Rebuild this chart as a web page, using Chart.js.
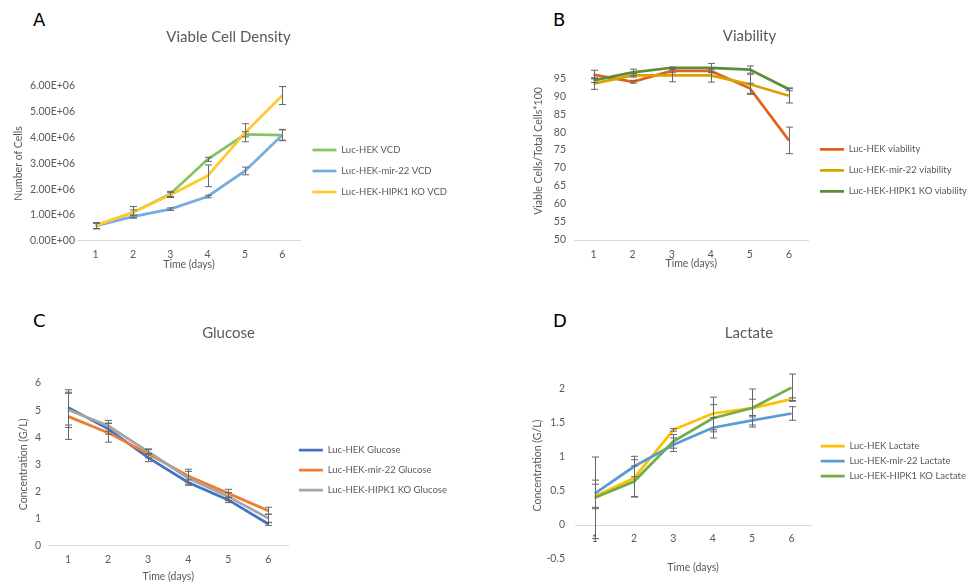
<!DOCTYPE html>
<html>
<head>
<meta charset="utf-8">
<script src="https://cdn.jsdelivr.net/npm/chart.js@4.4.1/dist/chart.umd.min.js"></script>
<style>
  html, body { margin: 0; padding: 0; background: #fff; overflow: hidden; }
  body { position: relative; width: 974px; height: 587px; }
  canvas { position: absolute; }
  .tag { position: absolute; font: 18px 'DejaVu Sans', sans-serif; line-height: 18px; color: #000; }
</style>
</head>
<body>
<div class="tag" style="left:33px;top:11px">A</div>
<div class="tag" style="left:553px;top:11px">B</div>
<div class="tag" style="left:33px;top:312px">C</div>
<div class="tag" style="left:553px;top:312px">D</div>

<canvas id="vcd" width="457" height="292" style="left:0;top:0"></canvas>
<canvas id="viability" width="455" height="292" style="left:522px;top:0"></canvas>
<canvas id="glucose" width="457" height="290" style="left:0;top:297px"></canvas>
<canvas id="lactate" width="454" height="290" style="left:522px;top:297px"></canvas>

<script>
const days = ['1', '2', '3', '4', '5', '6'];

// viable cell density (cells), mean and error
const vcdControl = [0.59e6, 1.10e6, 1.82e6, 3.16e6, 4.13e6, 4.10e6];
const vcdControlErr = [0.12e6, 0.10e6, 0.10e6, 0.08e6, 0.10e6, 0.20e6];
const vcdMir22 = [0.58e6, 0.94e6, 1.23e6, 1.72e6, 2.71e6, 4.10e6];
const vcdMir22Err = [0.10e6, 0.05e6, 0.05e6, 0.05e6, 0.15e6, 0.22e6];
const vcdHipk1 = [0.59e6, 1.11e6, 1.78e6, 2.52e6, 4.19e6, 5.63e6];
const vcdHipk1Err = [0.12e6, 0.22e6, 0.10e6, 0.42e6, 0.35e6, 0.35e6];

// viability (%)
const viaControl = [96.0, 94.0, 97.0, 97.0, 92.2, 77.7];
const viaControlErr = [1.2, 0.4, 0.5, 0.5, 1.4, 3.7];
const viaMir22 = [93.5, 95.8, 95.8, 95.8, 93.3, 90.1];
const viaMir22Err = [1.6, 0.5, 1.8, 1.9, 2.8, 2.0];
const viaHipk1 = [94.4, 96.6, 97.9, 97.9, 97.4, 91.9];
const viaHipk1Err = [0.6, 0.9, 0.2, 1.2, 1.0, 0.4];

// glucose (g/L)
const gluControl = [5.10, 4.31, 3.25, 2.33, 1.69, 0.80];
const gluControlErr = [0.65, 0.20, 0.15, 0.10, 0.10, 0.05];
const gluMir22 = [4.77, 4.17, 3.39, 2.57, 1.93, 1.29];
const gluMir22Err = [0.85, 0.35, 0.15, 0.25, 0.15, 0.13];
const gluHipk1 = [5.01, 4.42, 3.47, 2.49, 1.81, 1.01];
const gluHipk1Err = [0.65, 0.20, 0.10, 0.25, 0.15, 0.15];

// lactate (g/L)
const lacControl = [0.42, 0.69, 1.40, 1.64, 1.72, 1.85];
const lacControlErr = [0.18, 0.27, 0.02, 0.24, 0.13, 0.02];
const lacMir22 = [0.46, 0.86, 1.18, 1.43, 1.54, 1.64];
const lacMir22Err = [0.20, 0.15, 0.10, 0.15, 0.07, 0.10];
const lacHipk1 = [0.40, 0.64, 1.23, 1.57, 1.72, 2.02];
const lacHipk1Err = [0.60, 0.23, 0.10, 0.20, 0.28, 0.20];

const grey = '#595959';
Chart.defaults.font.family = 'Lato, sans-serif';
Chart.defaults.color = grey;

// mean +/- error whiskers, drawn over the lines
const errorBars = {
  id: 'errorBars',
  afterDatasetsDraw(chart) {
    const { ctx } = chart;
    const y = chart.scales.y;
    ctx.save();
    ctx.strokeStyle = '#666666';
    ctx.lineWidth = 1;
    chart.data.datasets.forEach((ds, i) => {
      if (!ds.errors) return;
      chart.getDatasetMeta(i).data.forEach((pt, j) => {
        const v = ds.data[j];
        const e = ds.errors[j];
        const x = Math.round(pt.x) + 0.5;
        const top = y.getPixelForValue(v + e);
        const bot = y.getPixelForValue(v - e);
        ctx.beginPath();
        ctx.moveTo(x, top); ctx.lineTo(x, bot);
        ctx.moveTo(x - 3.5, top); ctx.lineTo(x + 3.5, top);
        ctx.moveTo(x - 3.5, bot); ctx.lineTo(x + 3.5, bot);
        ctx.stroke();
      });
    });
    ctx.restore();
  },
};

const series = (label, data, errors, color, order) => ({
  label, data, errors, order,
  borderColor: color,
  backgroundColor: color,
  borderWidth: 2.75,
  pointRadius: 0,
  tension: 0,
});

function panel(id, p) {
  return new Chart(document.getElementById(id), {
    type: 'line',
    data: { labels: days, datasets: p.datasets },
    options: {
      responsive: false,
      animation: false,
      layout: { padding: { left: 0, right: 0, top: 0, bottom: p.bottom } },
      plugins: {
        tooltip: { enabled: false },
        title: {
          display: true,
          text: p.title,
          color: grey,
          font: { size: 15, weight: 'normal' },
          padding: { top: p.titleTop, bottom: p.titleBottom },
        },
        legend: {
          position: 'right',
          align: 'start',
          maxWidth: 220,
          title: { display: true, text: '', font: { size: 10 }, padding: { top: p.legendTop, bottom: 0 } },
          labels: {
            usePointStyle: true,
            pointStyle: 'line',
            pointStyleWidth: 24,
            padding: p.legendRow,
            color: grey,
            font: { size: 9.5 },
            sort: (a, b) => a.datasetIndex - b.datasetIndex,
          },
        },
      },
      scales: {
        x: {
          type: 'category',
          offset: true,
          position: p.xPosition || 'bottom',
          grid: { display: false, drawTicks: false },
          border: { display: true, color: '#d9d9d9', width: 1 },
          ticks: { padding: p.xTickPad, font: { size: 10.5, lineHeight: 1 } },
          title: {
            display: true, text: 'Time (days)', color: grey,
            font: { size: 10.5 }, padding: { top: p.xTitleTop, bottom: 0 },
          },
        },
        y: {
          min: p.min, max: p.max,
          grid: { display: false, drawTicks: false },
          border: { display: false },
          ticks: {
            stepSize: p.step, includeBounds: false, padding: p.yTickPad,
            font: { size: 10.5, lineHeight: 1 },
            callback: p.format || (v => String(v)),
          },
          title: {
            display: true, text: p.yTitle, color: grey,
            font: { size: 10.5 }, padding: { top: p.yTitleLeft, bottom: 0 },
          },
          afterFit: s => { s.width = p.yWidth; },
        },
        // empty strip between plot and legend
        gap: {
          type: 'linear',
          position: 'right',
          grid: { display: false },
          border: { display: false },
          ticks: { display: false },
          afterFit: s => { s.width = p.gap || 0; },
        },
      },
    },
    plugins: [errorBars],
  });
}

const sci = v => {
  const [m, e] = Number(v).toExponential(2).split('e');
  return m + 'E' + (e[0] === '-' ? '-' : '+') + String(Math.abs(+e)).padStart(2, '0');
};

panel('vcd', {
  title: 'Viable Cell Density',
  yTitle: 'Number of Cells',
  min: 0, max: 6e6, step: 1e6, format: sci,
  datasets: [
    series('Luc-HEK VCD', vcdControl, vcdControlErr, '#86c463', 3),
    series('Luc-HEK-mir-22 VCD', vcdMir22, vcdMir22Err, '#78acde', 2),
    series('Luc-HEK-HIPK1 KO VCD', vcdHipk1, vcdHipk1Err, '#ffca2c', 1),
  ],
  bottom: 21, titleTop: 28, titleBottom: 40,
  legendTop: 121.75, legendRow: 11.5, gap: 0,
  xTickPad: 8, xTitleTop: -9,
  yWidth: 77, yTickPad: 2, yTitleLeft: 12,
});

panel('viability', {
  title: 'Viability',
  yTitle: 'Viable Cells/Total Cells*100',
  min: 50, max: 99.5, step: 5,
  datasets: [
    series('Luc-HEK viability', viaControl, viaControlErr, '#e0621b', 3),
    series('Luc-HEK-mir-22 viability', viaMir22, viaMir22Err, '#d8a300', 2),
    series('Luc-HEK-HIPK1 KO viability', viaHipk1, viaHipk1Err, '#5a8f38', 1),
  ],
  bottom: 22.4, titleTop: 27, titleBottom: 17,
  legendTop: 121, legendRow: 11.5, gap: 0,
  xTickPad: 9, xTitleTop: -11.5,
  yWidth: 52, yTickPad: 8, yTitleLeft: 10,
});

panel('glucose', {
  title: 'Glucose',
  yTitle: 'Concentration (G/L)',
  min: 0, max: 6, step: 1,
  datasets: [
    series('Luc-HEK Glucose', gluControl, gluControlErr, '#4472c4', 3),
    series('Luc-HEK-mir-22 Glucose', gluMir22, gluMir22Err, '#ed7d31', 2),
    series('Luc-HEK-HIPK1 KO Glucose', gluHipk1, gluHipk1Err, '#a5a5a5', 1),
  ],
  bottom: 4, titleTop: 27, titleBottom: 41,
  legendTop: 125.75, legendRow: 10.5, gap: 0,
  xTickPad: 9, xTitleTop: -3.8,
  yWidth: 48, yTickPad: 7, yTitleLeft: 17,
});

panel('lactate', {
  title: 'Lactate',
  yTitle: 'Concentration (G/L)',
  min: -0.5, max: 2.25, step: 0.5,
  xPosition: { y: 0 },
  datasets: [
    series('Luc-HEK Lactate', lacControl, lacControlErr, '#ffc000', 3),
    series('Luc-HEK-mir-22 Lactate', lacMir22, lacMir22Err, '#5b9bd5', 2),
    series('Luc-HEK-HIPK1 KO Lactate', lacHipk1, lacHipk1Err, '#70ad47', 1),
  ],
  bottom: 28, titleTop: 27, titleBottom: 30,
  legendTop: 126.75, legendRow: 5.5, gap: 4,
  xTickPad: 8.5, xTitleTop: 9.2,
  yWidth: 53, yTickPad: 10, yTitleLeft: 9,
});
</script>
</body>
</html>
